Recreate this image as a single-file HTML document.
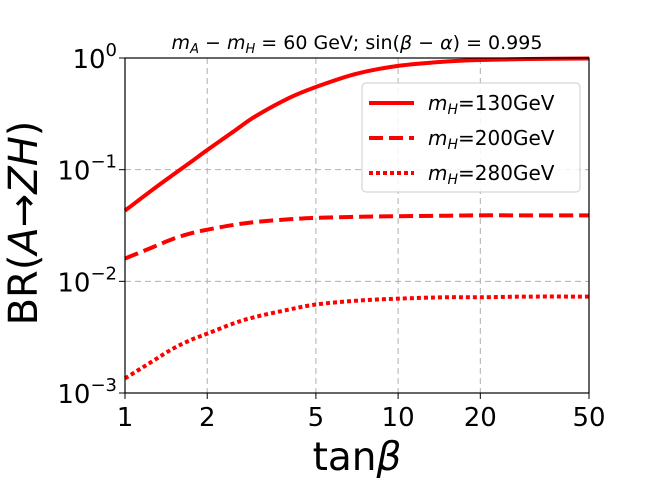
<!DOCTYPE html>
<html><head><meta charset="utf-8"><style>
body{margin:0;background:#fff;width:655px;height:480px;overflow:hidden}
text{font-family:"DejaVu Sans","Liberation Sans",sans-serif}
</style></head><body>
<svg id="chart" width="655" height="480" viewBox="0 0 655 480">
<text x="357" y="49" font-size="19" text-anchor="middle"><tspan font-style="italic">m</tspan><tspan font-size="13" dy="4" font-style="italic">A</tspan><tspan dy="-4"> − </tspan><tspan font-style="italic">m</tspan><tspan font-size="13" dy="4" font-style="italic">H</tspan><tspan dy="-4"> = 60 GeV; sin(</tspan><tspan font-style="italic">β</tspan><tspan> − </tspan><tspan font-style="italic">α</tspan><tspan>) = 0.995</tspan></text>
<g id="grid"></g>
<g id="series"></g>
<rect x="125" y="58" width="464" height="335" fill="none" stroke="#000" stroke-width="1.2"/>
<g id="ticks"></g>
<text x="357" y="470" font-size="39" text-anchor="middle">tan<tspan font-style="italic">β</tspan></text>
<text transform="translate(37,223) rotate(-90)" font-size="40" text-anchor="middle">BR(<tspan font-style="italic">A</tspan>→<tspan font-style="italic">ZH</tspan>)</text>
<g>
<rect x="362" y="83" width="218" height="109" rx="4" fill="#fff" fill-opacity="0.85" stroke="#ccc"/>
<g id="legend-items"></g>
</g>
</svg>
<script>
const xTicks=[1,2,5,10,20,50];
const yTicks=[-3,-2,-1,0];
const tanb=[1,1.25,1.5,1.75,2,2.5,3,4,5,7,10,15,20,30,50];
const br130=[0.043,0.065,0.09,0.118,0.15,0.22,0.3,0.44,0.55,0.72,0.85,0.93,0.96,0.98,0.99];
const br200=[0.016,0.02,0.024,0.027,0.029,0.032,0.034,0.036,0.037,0.0378,0.0383,0.0387,0.039,0.039,0.039];
const br280=[0.00135,0.0019,0.0025,0.003,0.0034,0.0042,0.0048,0.0056,0.0062,0.0067,0.007,0.0072,0.0072,0.0073,0.0073];
const labels=["130GeV","200GeV","280GeV"];
const L=125,R=589,T=58,B=393;
const X=v=>L+(R-L)*Math.log10(v)/Math.log10(50);
const Y=v=>T+(B-T)*(-Math.log10(v))/3;
const NS="http://www.w3.org/2000/svg";
function mk(tag,attrs,parent){const e=document.createElementNS(NS,tag);for(const k in attrs)e.setAttribute(k,attrs[k]);parent.appendChild(e);return e;}
function smooth(p){let d='M'+p[0][0]+','+p[0][1];
 for(let i=0;i<p.length-1;i++){const p0=p[Math.max(i-1,0)],p1=p[i],p2=p[i+1],p3=p[Math.min(i+2,p.length-1)];
  const c1=[p1[0]+(p2[0]-p0[0])/6,p1[1]+(p2[1]-p0[1])/6],c2=[p2[0]-(p3[0]-p1[0])/6,p2[1]-(p3[1]-p1[1])/6];
  d+=' C'+c1[0]+','+c1[1]+' '+c2[0]+','+c2[1]+' '+p2[0]+','+p2[1];}
 return d;}
const grid=document.getElementById('grid'),ticks=document.getElementById('ticks'),ser=document.getElementById('series');
xTicks.forEach(t=>{const x=X(t);
 if(t>1&&t<50){const g=mk('line',{x1:x,x2:x,y1:T,y2:B,stroke:'#b0b0b0','stroke-dasharray':'6,4'},grid);}
 mk('line',{x1:x,x2:x,y1:B,y2:B+6,stroke:'#000'},ticks);
 const tx=mk('text',{x:x,y:B+33,'font-size':26,'text-anchor':'middle'},ticks);tx.textContent=t;
 });
yTicks.forEach(p=>{const y=Y(Math.pow(10,p));
 if(p>-3&&p<0){const g=mk('line',{x1:L,x2:R,y1:y,y2:y,stroke:'#b0b0b0','stroke-dasharray':'6,4'},grid);}
 mk('line',{x1:L-6,x2:L,y1:y,y2:y,stroke:'#000'},ticks);
 const tx=mk('text',{x:L-8,y:y+10,'font-size':26,'text-anchor':'end'},ticks);
 tx.innerHTML='10<tspan font-size="18" dy="-12">'+(p<0?'−'+(-p):p)+'</tspan>';
 });
const styles=[{d:'none',n:'series-mh130'},{d:'14,6',n:'series-mh200'},{d:'4,3',n:'series-mh280'}];
[br130,br200,br280].forEach((s,i)=>{
 const pts=tanb.map((t,j)=>[X(t),Y(s[j])]);
 const p=mk('path',{d:smooth(pts),fill:'none',stroke:'#ff0000','stroke-width':4,'stroke-dasharray':styles[i].d},ser);
 
 const li=document.getElementById('legend-items');const y=103+i*35;
 mk('line',{x1:369,x2:414,y1:y,y2:y,stroke:'#ff0000','stroke-width':4,'stroke-dasharray':styles[i].d},li);
 const tx=mk('text',{x:428,y:y+7,'font-size':20},li);
 tx.innerHTML='<tspan font-style="italic">m</tspan><tspan font-size="14" dy="4" font-style="italic">H</tspan><tspan dy="-4">=</tspan><tspan>'+labels[i]+'</tspan>';
 
});
</script>
</body></html>
